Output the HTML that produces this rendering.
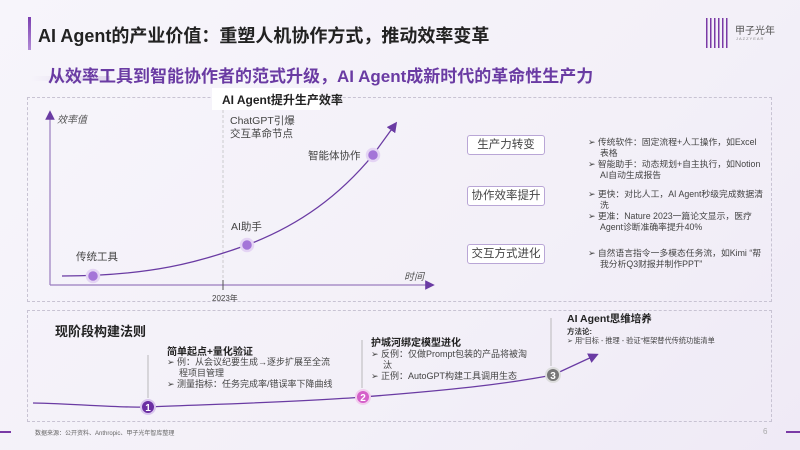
<!DOCTYPE html>
<html><head><meta charset="utf-8"><style>
*{margin:0;padding:0;box-sizing:border-box}
body{width:800px;height:450px;overflow:hidden;background:linear-gradient(135deg,#f7f5fb,#f3f0f8 60%,#efeaf6);font-family:"Liberation Sans","Noto Sans CJK SC",sans-serif;position:relative;color:#333}
.a{position:absolute;white-space:nowrap}
.box{position:absolute;border:1px dashed #c8c3d3}
.tag{position:absolute;width:78px;height:20px;border:1px solid #b9a6d6;border-radius:3px;background:#fff;font-size:11.5px;text-align:center;line-height:18px;color:#444}
.b{position:absolute;font-size:8.8px;line-height:11px;color:#444;width:176px}
.b div{padding-left:12px;text-indent:-12px}
</style></head><body>
<div class="a" style="left:28px;top:17px;width:3px;height:33px;background:linear-gradient(#7b3fb0,#b28bd6)"></div>
<div class="a" style="left:38px;top:22px;font-size:18px;font-weight:bold;color:#222">AI Agent的产业价值：重塑人机协作方式，推动效率变革</div>
<div class="a" style="left:706px;top:18px;width:24px;height:30px;background:repeating-linear-gradient(90deg,#7a3aa6 0 1.5px,transparent 1.5px 4px)"></div>
<div class="a" style="left:735px;top:22px;font-size:10px;color:#555">甲子光年</div>
<div class="a" style="left:736px;top:36px;font-size:4px;color:#888;letter-spacing:1px">JAZZYEAR</div>
<div class="a" style="left:30px;top:76px;width:80px;height:5px;background:linear-gradient(90deg,transparent,#ddd3ea)"></div>
<div class="a" style="left:48px;top:62px;font-size:17px;font-weight:bold;color:#6a3ba3">从效率工具到智能协作者的范式升级，AI Agent成新时代的革命性生产力</div>
<div class="box" style="left:27px;top:97px;width:745px;height:205px"></div>
<div class="a" style="left:212px;top:88px;width:108px;height:22px;background:#fff"></div>
<div class="a" style="left:222px;top:91px;font-size:12px;font-weight:bold;color:#222">AI Agent提升生产效率</div>
<svg class="a" style="left:0;top:0" width="800" height="450">
<defs><marker id="ar" markerWidth="8" markerHeight="8" refX="4" refY="4" orient="auto"><path d="M0,0L8,4L0,8z" fill="#6a3ba3"/></marker></defs>
<line x1="50" y1="285" x2="50" y2="115" stroke="#9a7dbf" stroke-width="1.2" marker-end="url(#ar)"/>
<line x1="50" y1="285" x2="430" y2="285" stroke="#9a7dbf" stroke-width="1.2" marker-end="url(#ar)"/>
<line x1="223" y1="110" x2="223" y2="285" stroke="#bbb" stroke-dasharray="3,2" stroke-width=".7"/>
<line x1="223" y1="280" x2="223" y2="290" stroke="#555"/>
<path d="M62,276 C150,276 200,262 247,245 C300,225 340,195 373,155 L394,126" fill="none" stroke="#6a3ba3" stroke-width="1.3" marker-end="url(#ar)"/>
<circle cx="93" cy="276" r="6" fill="#a474d8" stroke="#e4d4f4" stroke-width="2.5"/>
<circle cx="247" cy="245" r="6" fill="#a474d8" stroke="#e4d4f4" stroke-width="2.5"/>
<circle cx="373" cy="155" r="6" fill="#a474d8" stroke="#e4d4f4" stroke-width="2.5"/>
<line x1="148" y1="355" x2="148" y2="398" stroke="#aaa" stroke-width=".8"/>
<line x1="362" y1="340" x2="362" y2="388" stroke="#aaa" stroke-width=".8"/>
<line x1="551" y1="318" x2="551" y2="366" stroke="#aaa" stroke-width=".8"/>
<path d="M33,403 C80,404 120,408 148,407 C220,404 300,402 363,397 C450,390 500,385 553,375 L594,356" fill="none" stroke="#6a3ba3" stroke-width="1.3" marker-end="url(#ar)"/>
<circle cx="148" cy="407" r="7" fill="#6b2fa3" stroke="#d9c6ee" stroke-width="2"/>
<circle cx="363" cy="397" r="7" fill="#d55fc9" stroke="#f2cdee" stroke-width="2"/>
<circle cx="553" cy="375" r="7" fill="#777" stroke="#ddd" stroke-width="2"/>
<text x="148" y="411" font-size="10" fill="#fff" text-anchor="middle" font-weight="bold" font-family="Liberation Sans">1</text>
<text x="363" y="401" font-size="10" fill="#fff" text-anchor="middle" font-weight="bold" font-family="Liberation Sans">2</text>
<text x="553" y="379" font-size="10" fill="#fff" text-anchor="middle" font-weight="bold" font-family="Liberation Sans">3</text>
</svg>
<div class="a" style="left:57px;top:111px;font-size:10px;font-style:italic;color:#555">效率值</div>
<div class="a" style="left:404px;top:268px;font-size:10px;font-style:italic;color:#555">时间</div>
<div class="a" style="left:212px;top:293px;font-size:8px;color:#444">2023年</div>
<div class="a" style="left:230px;top:115px;font-size:10.5px;line-height:13px;color:#444">ChatGPT引爆<br>交互革命节点</div>
<div class="a" style="left:308px;top:148px;font-size:10.5px;color:#444">智能体协作</div>
<div class="a" style="left:231px;top:219px;font-size:10.5px;color:#444">AI助手</div>
<div class="a" style="left:76px;top:249px;font-size:10.5px;color:#444">传统工具</div>
<div class="tag" style="left:467px;top:135px">生产力转变</div>
<div class="tag" style="left:467px;top:186px">协作效率提升</div>
<div class="tag" style="left:467px;top:244px">交互方式进化</div>
<div class="b" style="left:588px;top:137px"><div>➢ 传统软件：固定流程+人工操作，如Excel表格</div><div>➢ 智能助手：动态规划+自主执行，如Notion AI自动生成报告</div></div>
<div class="b" style="left:588px;top:189px"><div>➢ 更快：对比人工，AI Agent秒级完成数据清洗</div><div>➢ 更准：Nature 2023一篇论文显示，医疗Agent诊断准确率提升40%</div></div>
<div class="b" style="left:588px;top:248px"><div>➢ 自然语言指令一多模态任务流，如Kimi “帮我分析Q3财报并制作PPT”</div></div>
<div class="box" style="left:27px;top:310px;width:745px;height:112px"></div>
<div class="a" style="left:55px;top:321px;font-size:13px;font-weight:bold;color:#222">现阶段构建法则</div>
<div class="a" style="left:167px;top:343px;font-size:10px;font-weight:bold;color:#222">简单起点+量化验证</div>
<div class="b" style="left:167px;top:357px;width:172px;font-size:9px;line-height:11px"><div>➢ 例：从会议纪要生成→逐步扩展至全流程项目管理</div><div>➢ 测量指标：任务完成率/错误率下降曲线</div></div>
<div class="a" style="left:371px;top:334px;font-size:10px;font-weight:bold;color:#222">护城河绑定模型进化</div>
<div class="b" style="left:371px;top:349px;width:160px;font-size:9px;line-height:11px"><div>➢ 反例：仅做Prompt包装的产品将被淘汰</div><div>➢ 正例：AutoGPT构建工具调用生态</div></div>
<div class="a" style="left:567px;top:311px;font-size:10.5px;font-weight:bold;color:#222">AI Agent思维培养</div>
<div class="a" style="left:567px;top:326px;font-size:7.5px;font-weight:bold;color:#333">方法论:</div>
<div class="a" style="left:567px;top:336px;font-size:7.2px;color:#444">➢ 用“目标 - 推理 - 验证”框架替代传统功能清单</div>
<div class="a" style="left:0;top:431px;width:11px;height:2px;background:#7a3aa6"></div>
<div class="a" style="left:786px;top:431px;width:14px;height:2px;background:#7a3aa6"></div>
<div class="a" style="left:35px;top:428px;font-size:6px;color:#666">数据来源：公开资料、Anthropic、甲子光年智库整理</div>
<div class="a" style="left:763px;top:427px;font-size:8px;color:#aaa">6</div>
</body></html>
